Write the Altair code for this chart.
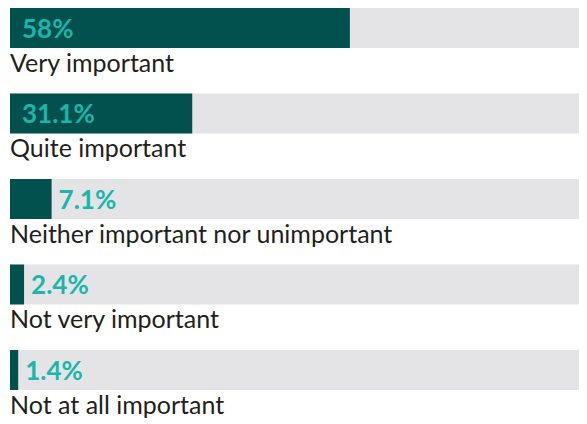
import altair as alt
import pandas as pd

categories = [
    "Very important",
    "Quite important",
    "Neither important nor unimportant",
    "Not very important",
    "Not at all important",
]
values = [58, 31.1, 7.1, 2.4, 1.4]
labels = ["58%", "31.1%", "7.1%", "2.4%", "1.4%"]

df = pd.DataFrame({"cat": categories, "value": values, "label": labels})

yenc = alt.Y(
    "cat:N",
    sort=categories,
    axis=None,
    scale=alt.Scale(paddingInner=0.5322, paddingOuter=0.1755, align=0),
)
xscale = alt.Scale(domain=[0, 97.1], nice=False, zero=True)

base = alt.Chart(df)

track = base.mark_bar(color="#e4e4e6").encode(
    y=yenc, x=alt.value(0), x2=alt.value("width")
)
bars = base.mark_bar(color="#03514f").encode(
    y=yenc, x=alt.X("value:Q", scale=xscale, axis=None)
)
inside = (
    base.transform_filter("datum.value >= 20")
    .mark_text(
        align="left", baseline="alphabetic", dx=12, dy=10,
        font="Lato", fontWeight="bold", fontSize=26, color="#1bb5ab",
    )
    .encode(y=yenc, x=alt.value(0), text="label:N")
)
outside = (
    base.transform_filter("datum.value < 20")
    .mark_text(
        align="left", baseline="alphabetic", dx=7, dy=10,
        font="Lato", fontWeight="bold", fontSize=26, color="#1bb5ab",
    )
    .encode(y=yenc, x=alt.X("value:Q", scale=xscale, axis=None), text="label:N")
)
catlabels = base.mark_text(
    align="left", baseline="alphabetic", dx=0, dy=44,
    font="Lato", fontSize=25, color="#231f20",
).encode(y=yenc, x=alt.value(0), text="cat:N")

chart = (
    alt.layer(track, bars, inside, outside, catlabels)
    .properties(
        width=569,
        height=412,
        autosize=alt.AutoSizeParams(type="none"),
        padding={"left": 2, "top": 0, "right": 0, "bottom": 0},
    )
    .configure_view(stroke=None)
)

chart.save("out.html", embed_options={"renderer": "svg", "actions": False})
